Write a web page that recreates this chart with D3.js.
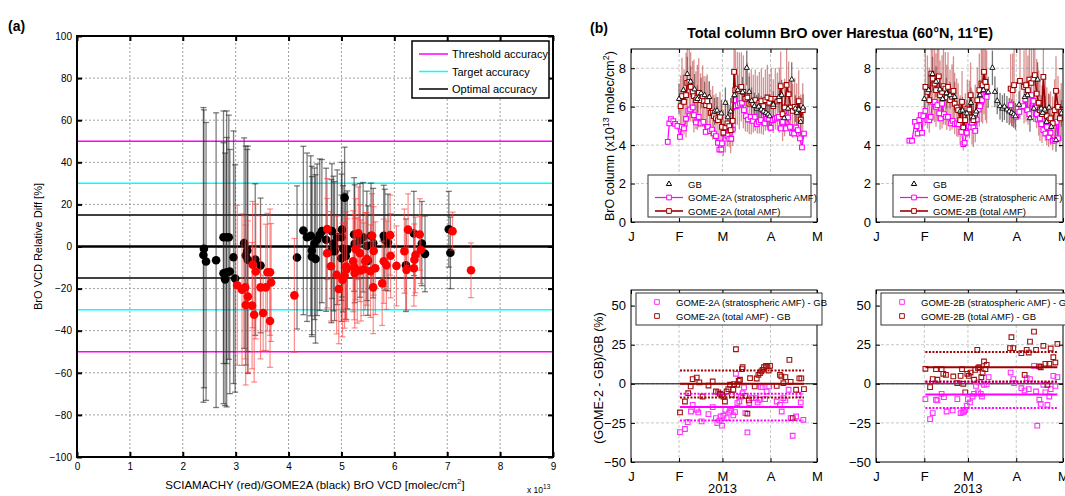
<!DOCTYPE html>
<html>
<head>
<meta charset="utf-8">
<script src="https://cdn.jsdelivr.net/npm/d3@7"></script>
<style>
  body { margin: 0; background: #fff; }
  text { font-family: "Liberation Sans", Arial, sans-serif; }
</style>
</head>
<body>
<div id="chart"></div>
<script>
// ---------- panel (a): relative differences vs VCD ----------
// [VCD (x1e13 molec/cm2), relative diff %, error bar half-length %]
const sciamachyPts = [
  [3.03,-18.4,38],[3.12,-20.5,36],[3.18,-19.4,34],[3.23,-23.8,36],[3.19,-27.8,38],[3.31,-28.1,30],
  [3.35,-32.4,32],[3.32,-8.6,30],[3.38,-11.9,32],[3.47,-19.4,34],[3.52,-31.6,18],[3.57,-19.4,30],
  [3.60,-12.2,28],[3.65,-12.2,30],[3.67,-17.1,28],[3.65,-35.4,22],[4.11,-23.2,27],[4.73,8.3,24],
  [4.73,-3.2,26],[4.80,-9.4,26],[4.91,-13.5,28],[4.95,-20.2,26],[5.02,-15.9,27],[5.06,-13.8,25],
  [5.09,-9.5,26],[5.10,-10.8,24],[5.22,-7,24],[5.24,-9.8,25],[5.25,-12.7,26],[5.27,-1.3,24],
  [5.30,-11.4,25],[5.32,6.3,22],[5.35,-3.2,23],[5.37,-11.4,24],[5.42,-10.8,22],[5.45,-7,23],
  [5.48,-5.9,22],[5.55,-11.7,22],[5.58,5.1,20],[5.60,-19.4,22],[5.61,-2.1,21],[5.64,-10.3,22],
  [5.77,-17.5,20],[5.80,-7,20],[5.85,-8.9,21],[5.92,5.4,19],[5.93,-4.4,20],[6.04,-9.2,19],
  [6.19,-2.2,20],[6.23,-11.1,19],[6.26,8,17],[6.37,-10.3,18],[6.38,-6.3,17],[6.40,-4,18],
  [6.48,5.7,17],[6.50,-1.6,16],[7.10,7.3,9],[7.45,-11.3,13]
];
const gome2aPts = [
  [2.40,-1.1,66],[2.39,-4,70],[2.44,-7.1,66],[2.63,-6.5,70],[2.77,4.4,60],[2.83,4.4,60],
  [2.87,4.4,58],[2.77,-12.7,62],[2.80,-15.6,60],[2.83,-12.2,64],[2.89,-11.9,58],[2.96,-5.1,60],
  [2.99,-15.2,54],[3.16,1.6,50],[3.19,-4.3,52],[3.22,-1.9,48],[3.23,-6.3,54],[3.37,-6.2,36],
  [3.47,-9,32],[4.16,-5.2,34],[4.28,7.6,40],[4.35,4.4,40],[4.42,5.1,38],[4.44,-1.9,40],
  [4.44,-4.8,38],[4.51,-5.9,40],[4.49,1.3,36],[4.54,3.2,36],[4.59,5.6,36],[4.63,7.3,34],
  [4.71,3.2,34],[4.81,-2.2,34],[4.82,7.3,32],[4.85,1.4,32],[4.87,-2.2,33],[4.92,4.4,32],
  [5.00,4.4,30],[5.01,8,32],[5.06,23.2,24],[5.03,-1.1,30],[5.00,-5.6,30],[5.08,-4.6,30],
  [5.11,-1.6,28],[5.24,5.7,27],[5.25,1.3,28],[5.35,2.9,27],[5.41,4.4,26],[5.48,0.3,26],
  [5.50,-6.7,26],[5.56,5.1,25],[5.60,1.6,26],[5.80,5.1,24],[5.82,3.2,24],[5.88,1.9,23],
  [6.22,-8.9,22],[6.37,6.2,20],[6.52,1.4,20],[6.58,-3.5,18],[7.03,8.2,18],[7.06,-3,17]
];
const xTicksA = [0,1,2,3,4,5,6,7,8,9];
const yTicksA = [-100,-80,-60,-40,-20,0,20,40,60,80,100];
const accuracyNames = ["Threshold accuracy", "Target accuracy", "Optimal accuracy"];
const accuracyLevels = [50, 30, 15];

// ---------- panel (b): Harestua time series (day = days since 1 Jan 2013) ----------
// ground-based [day, BrO x1e13, error]
const gbColumn = [
  [31.0,6.4,0.8],[33.8,6.86,0.8],[36.3,7.7,0.9],[38.5,7.3,0.8],[41.0,6.9,0.8],[42.8,6.4,0.7],
  [45.2,6.7,0.8],[47.5,6.6,0.7],[50.5,6.5,0.8],[53.9,5.75,0.7],[55.5,5.8,0.7],[58.3,5.65,0.7],
  [60.9,6.2,0.8],[62.5,5.45,0.7],[64.3,5.75,0.7],[66.7,6.6,0.8],[68.9,6.86,0.8],[72.0,6.75,0.8],
  [74.7,8.02,0.9],[76.3,6.77,0.8],[77.8,6.3,0.7],[79.6,6.03,0.7],[81.1,5.9,0.7],[82.4,6.0,0.7],
  [84.0,5.85,0.7],[85.5,5.75,0.7],[87.1,5.68,0.7],[88.4,5.6,0.7],[89.5,5.5,0.7],[91.8,6.1,0.7],
  [95.5,6.5,0.8],[97.2,6.6,0.8],[98.8,5.4,0.7],[101.3,5.9,0.7],[103.7,7.41,0.9],[106.0,5.9,0.7],
  [107.0,5.68,0.7],[108.3,5.85,0.7],[109.5,5.21,0.7],[111.0,5.95,0.7],[112.5,4.95,0.7],
  [115.5,4.26,0.6],[119.0,5.65,0.7]
];
// GOME-2A stratospheric AMF [day, value]
const gome2aStrat = [
  [23.7,4.17],[24.7,5.13],[25.8,5.35],[27.3,5.25],[28.4,5.1],[29.9,5.0],[31.6,4.43],[32.7,4.95],
  [34.2,4.87],[35.5,5.37],[37.0,5.78],[38.1,5.85],[39.8,5.96],[40.6,5.56],[41.9,5.18],[43.7,5.47],
  [44.9,5.13],[46.7,5.21],[48.2,4.69],[49.7,4.95],[51.0,4.73],[52.3,4.81],[53.5,4.6],[54.8,4.47],
  [56.1,4.12],[57.0,3.77],[58.3,3.77],[58.7,4.09],[60.0,4.6],[61.3,4.95],[62.2,4.5],[63.4,4.33],
  [64.7,4.33],[65.6,4.81],[66.5,6.34],[67.7,6.03],[69.0,6.08],[70.3,6.16],[71.6,6.2],[72.9,5.82],
  [74.2,5.51],[75.5,5.33],[77.2,5.47],[78.5,5.26],[79.8,5.47],[81.1,5.09],[82.4,5.21],[83.7,5.3],
  [84.9,5.82],[86.2,5.13],[87.5,5.37],[88.8,5.37],[90.1,4.9],[91.4,5.3],[92.7,5.37],[94.0,5.42],
  [95.3,5.47],[96.6,4.87],[97.8,5.21],[98.7,5.77],[100.0,4.87],[101.3,5.44],[102.6,4.95],
  [103.9,4.64],[105.2,4.6],[106.5,4.92],[107.7,4.78],[109.0,4.35],[110.3,3.88],[111.6,4.6]
];
// GOME-2A total AMF [day, value, error]
const gome2aTotal = [
  [32.0,6.03,1.6],[32.9,6.55,2.0],[34.2,6.25,1.7],[35.5,6.6,2.2],[36.3,7.24,2.3],[37.6,7.29,2.0],
  [38.5,7.03,1.8],[39.8,6.77,1.6],[40.6,6.55,1.9],[41.9,6.34,1.5],[42.8,6.48,1.7],[43.7,6.72,1.8],
  [44.9,6.34,1.4],[46.2,6.55,1.6],[47.1,6.29,1.3],[48.4,6.08,1.5],[49.2,6.29,1.4],[50.5,6.03,1.3],
  [51.4,5.68,1.2],[52.7,5.68,1.4],[53.5,5.51,1.1],[54.8,5.39,1.3],[56.1,5.3,1.2],[57.4,5.47,1.3],
  [58.7,4.95,1.1],[59.6,4.64,1.2],[60.9,4.92,1.3],[62.2,5.13,1.2],[63.4,4.99,1.1],[64.3,4.78,1.2],
  [65.6,5.26,1.3],[66.5,7.81,2.0],[67.3,6.86,2.1],[68.6,6.94,1.9],[69.9,6.82,2.0],[71.2,7.03,1.8],
  [72.5,6.77,1.9],[73.8,6.41,1.7],[75.1,6.48,1.8],[76.3,6.16,1.6],[77.6,6.25,1.7],[78.9,6.16,1.5],
  [80.2,6.34,1.6],[81.5,6.11,1.5],[82.8,6.2,1.6],[84.1,6.29,1.7],[85.4,6.03,1.5],[86.7,6.34,1.6],
  [88.0,6.48,1.7],[89.2,6.2,1.5],[90.5,6.41,1.6],[91.8,6.03,1.4],[93.1,6.41,1.6],[94.4,6.27,1.5],
  [95.7,6.34,1.7],[96.6,7.07,1.8],[97.8,5.61,1.4],[99.1,5.96,1.5],[100.4,7.13,1.9],[101.7,6.65,1.7],
  [103.0,5.96,1.5],[104.3,5.78,1.4],[105.6,5.99,1.5],[106.9,5.82,1.4],[108.2,6.29,1.6],
  [109.5,5.33,1.3],[110.8,5.82,1.4]
];
// GOME-2B stratospheric AMF [day, value]
const gome2bStrat = [
  [21.4,4.23],[23.1,4.23],[25.0,5.21],[26.1,4.99],[26.7,4.6],[27.8,5.3],[28.7,5.56],[29.5,4.64],
  [30.4,5.51],[31.7,5.78],[33.0,5.3],[34.2,5.3],[35.1,5.47],[36.4,6.25],[37.6,6.25],[38.5,5.99],
  [39.4,6.08],[40.6,5.65],[41.5,5.39],[42.4,6.16],[43.6,5.61],[44.9,5.47],[46.2,5.47],[47.9,5.13],
  [49.2,5.26],[50.5,5.09],[51.8,5.13],[53.0,5.09],[54.8,4.69],[56.0,4.05],[56.9,4.12],[58.2,4.64],
  [59.5,4.99],[60.7,4.95],[61.6,5.16],[62.5,4.92],[63.7,4.74],[64.6,5.33],[65.9,5.85],[66.7,6.03],
  [68.0,6.34],[68.9,6.6],[70.2,6.55],[71.0,6.51],[86.4,6.08],[88.1,5.56],[89.8,5.47],[92.0,5.73],
  [93.3,5.99],[94.5,6.03],[95.8,6.37],[97.1,5.82],[98.4,5.61],[99.7,6.6],[101.0,6.3],[101.9,5.96],
  [103.1,5.61],[104.0,5.33],[105.2,5.39],[106.1,5.09],[107.4,4.78],[108.7,4.6],[109.6,4.95],
  [110.8,4.4],[112.0,4.64],[113.4,4.23],[114.6,4.23],[115.9,5.21],[116.8,4.35],[117.7,5.78],
  [118.9,5.56]
];
// GOME-2B total AMF [day, value, error]
const gome2bTotal = [
  [31.7,7.03,2.0],[33.0,6.77,1.9],[34.2,6.34,1.7],[35.5,7.72,2.3],[36.4,7.46,2.2],[37.6,7.2,2.0],
  [38.5,6.86,1.9],[39.4,7.34,2.1],[40.3,7.58,2.2],[41.1,6.6,1.8],[42.4,6.77,1.9],[43.3,7.07,2.0],
  [44.5,6.94,1.9],[45.4,6.48,1.7],[46.2,7.03,1.8],[47.5,6.34,1.6],[48.8,6.51,1.7],[49.7,6.82,1.8],
  [50.5,6.16,1.6],[51.8,5.96,1.5],[52.7,5.82,1.4],[54.0,5.3,1.3],[55.2,6.25,1.6],[56.0,4.92,1.2],
  [57.3,5.3,1.4],[58.6,5.9,1.5],[59.9,5.85,1.5],[60.7,6.6,1.7],[61.6,5.44,1.4],[62.5,5.3,1.4],
  [63.7,5.65,1.5],[65.0,6.34,1.7],[66.3,6.86,1.9],[67.6,7.2,2.0],[68.4,7.12,2.0],[69.3,7.81,2.2],
  [70.2,7.29,2.0],[71.0,7.03,1.9],[86.4,6.94,1.8],[87.7,6.86,1.9],[88.6,7.12,2.0],[92.4,7.34,2.0],
  [95.0,7.03,1.9],[96.3,7.12,1.9],[97.5,6.86,1.8],[98.4,7.41,2.0],[99.7,7.24,1.9],[101.0,7.46,2.0],
  [101.9,7.64,2.1],[103.1,6.68,1.8],[104.4,6.2,1.7],[105.2,5.82,1.6],[106.5,5.61,1.5],
  [107.4,7.55,2.0],[108.7,5.82,1.6],[109.6,5.51,1.5],[110.8,5.3,1.4],[112.0,5.39,1.4],
  [113.4,5.13,1.4],[114.6,5.82,1.6],[115.5,6.82,1.8],[116.8,5.99,1.6],[118.0,5.39,1.5],[118.9,5.73,1.5]
];

// relative differences (GOME-2 - GB)/GB in % [day, value]
const diffAStrat = [
  [31.6,-30.9],[34.8,-28.9],[36.6,-24.5],[38.7,-17.7],[39.8,-13.4],[42.4,-16.6],[43.4,-18.3],
  [45.6,-24],[50.0,-19.4],[52.7,-14.9],[54.8,-21.9],[55.7,-25.1],[57.0,-23.4],[57.8,-20.9],
  [58.7,-26.8],[59.6,-20.4],[60.9,-16.6],[61.7,-21.9],[63.4,-18.3],[64.7,-17.2],[66.0,-20.2],
  [67.1,-18.1],[67.7,6.4],[68.6,-12.3],[69.9,-11.3],[70.8,-8.1],[72.0,-6],[72.9,-2.3],[73.8,-18.7],
  [75.1,-31.1],[76.3,-12.3],[77.8,-9.1],[80.6,-9.1],[81.7,-11.9],[82.8,-10.2],[83.7,-2.1],
  [84.9,-2.1],[86.5,-9.8],[87.5,-4.9],[89.2,-1.7],[94.0,-11.3],[96.1,-13.4],[97.2,-17.7],
  [98.3,-9.1],[99.6,-10.6],[101.7,-3.8],[103.0,-21.9],[104.3,-33.2],[106.5,-20.9],[108.2,-7],
  [109.5,-11.9],[111.2,-23]
];
const diffATotal = [
  [31.6,-18.3],[34.8,-11.3],[36.9,-6],[38.5,-1.7],[39.8,3],[42.4,4],[44.1,0.9],[46.2,-8.1],
  [50.0,-1.1],[52.7,1.5],[54.8,-4.9],[56.3,-5.5],[57.4,-6.4],[58.7,-7],[59.6,-8.1],[60.6,-11.3],
  [61.7,-4.9],[62.8,-3.4],[63.9,-0.6],[65.0,-7],[66.0,-3.8],[66.5,-0.2],[67.7,22.1],[68.6,-0.6],
  [69.5,1.9],[70.3,2.6],[71.6,9.4],[72.0,10.6],[73.8,-7.7],[75.1,-19.1],[76.0,-10.6],[76.8,3.6],
  [79.8,-1.7],[81.1,3.4],[82.2,5.7],[83.2,6.8],[84.1,7.9],[84.9,8.9],[85.8,10.6],[87.1,11.5],
  [88.0,11.1],[88.8,8.5],[89.7,11.5],[94.0,-1.3],[96.1,5.7],[97.0,4.7],[98.3,0.4],[99.6,4.3],
  [102.2,15.3],[103.0,1.3],[104.3,-21.9],[106.5,-3.8],[108.6,3.5],[109.9,3.5],[111.6,-3.4]
];
const diffBStrat = [
  [31.7,-9.8],[34.7,-22.6],[36.4,-18.7],[38.5,-10.2],[39.4,-10.6],[42.1,-6.4],[43.6,-8.5],
  [45.3,-17.7],[49.2,-17],[52.2,-9.8],[54.3,-18.7],[55.6,-18.3],[56.5,-17.7],[57.3,-16.6],
  [58.2,-14],[59.0,-9.8],[60.3,-11.9],[62.0,-8.1],[62.9,-6.4],[64.2,-1.3],[65.5,-5.5],[66.3,0.9],
  [67.2,-6.4],[68.0,-8.1],[69.3,-0.6],[71.0,-0.4],[72.3,4.3],[86.4,7.2],[88.1,3],[88.6,0.4],
  [93.3,-2.8],[95.4,-4.3],[96.7,3.6],[98.0,-3.4],[98.8,3],[101.4,11.5],[102.7,-4.9],[103.5,-26.8],
  [104.8,-10.2],[105.7,-12.8],[107.4,-0.6],[108.7,-5.5],[110.0,-13.4],[111.2,-8.1],[112.1,-3.4],
  [113.8,5.1],[115.1,-1.3],[116.4,4.3]
];
const diffBTotal = [
  [31.7,9.6],[34.7,-2.1],[36.4,3],[38.5,9.4],[39.4,2.6],[42.1,9.4],[43.2,6.4],[44.9,5.7],
  [49.6,4.7],[52.2,0.4],[54.3,5.1],[55.2,9.4],[56.0,0],[57.3,-5.5],[58.6,6.4],[59.5,5.1],
  [60.7,7.2],[62.9,2.6],[63.7,8.9],[65.0,21.7],[65.5,10],[66.3,10.6],[67.6,4.3],[68.4,6.8],
  [69.3,14.3],[70.2,9.4],[71.0,12.1],[86.0,22.8],[86.9,29.8],[88.1,22.8],[93.3,19.6],[95.4,5.7],
  [96.7,21.7],[98.0,20],[98.8,27],[101.4,33.4],[102.7,21.7],[104.8,11.1],[105.7,10.6],
  [107.4,24.3],[108.7,12.8],[110.0,-0.6],[111.2,12.8],[112.1,22.6],[113.8,17],[115.1,13.6],
  [116.4,25.5]
];
// [lower dotted, solid, upper dotted] in %
const statsAStrat = [-23.4, -14.9, -6.4];
const statsATotal = [-8.7, 0, 8.5];
const statsBStrat = [-15.5, -6.8, 1.0];
const statsBTotal = [1.5, 10.6, 20.4];
const yTicksCol = [0, 2, 4, 6, 8];
const yTicksDiff = [-50, -25, 0, 25, 50];

// ---------- drawing ----------
const MAG = "#ff00ff", CYAN = "#00ffff", DRED = "#a00000";
const svg = d3.select("#chart").append("svg").attr("width", 1065).attr("height", 496);

function errorBars(g, pts, x, y, color, width, cap) {
  const b = g.append("g").attr("stroke", color).attr("stroke-width", width).attr("fill", "none");
  b.selectAll(".v").data(pts).join("line").attr("class", "v")
    .attr("x1", d => x(d[0])).attr("x2", d => x(d[0]))
    .attr("y1", d => y(d[1] - d[2])).attr("y2", d => y(d[1] + d[2]));
  if (cap) {
    [-1, 1].forEach(s => {
      b.selectAll(".c" + s).data(pts).join("line").attr("class", "c" + s)
        .attr("x1", d => x(d[0]) - cap).attr("x2", d => x(d[0]) + cap)
        .attr("y1", d => y(d[1] + s * d[2])).attr("y2", d => y(d[1] + s * d[2]));
    });
  }
}

// ---- panel (a)
const xA = d3.scaleLinear().domain([0, 9]).range([77, 553]);
const yA = d3.scaleLinear().domain([-100, 100]).range([457, 36]);
const pa = svg.append("g");
pa.append("clipPath").attr("id", "clipA").append("rect")
  .attr("x", xA(0)).attr("y", yA(100)).attr("width", xA(9) - xA(0)).attr("height", yA(-100) - yA(100));

const gridA = pa.append("g").attr("stroke", "#a0a0a0").attr("stroke-dasharray", "2,2");
gridA.selectAll(".gx").data(xTicksA.filter(d => d > 0 && d < 9)).join("line")
  .attr("x1", d => xA(d)).attr("x2", d => xA(d)).attr("y1", yA(-100)).attr("y2", yA(100));
gridA.selectAll(".gy").data(yTicksA.filter(d => d > -100 && d < 100 && d !== 0)).join("line")
  .attr("x1", xA(0)).attr("x2", xA(9)).attr("y1", d => yA(d)).attr("y2", d => yA(d));

const accColors = [MAG, CYAN, "#000"];
accuracyLevels.forEach((v, i) => {
  [v, -v].forEach(s => pa.append("line")
    .attr("x1", xA(0)).attr("x2", xA(9)).attr("y1", yA(s)).attr("y2", yA(s))
    .attr("stroke", accColors[i]).attr("stroke-width", 1.5));
});
pa.append("line").attr("x1", xA(0)).attr("x2", xA(9)).attr("y1", yA(0)).attr("y2", yA(0))
  .attr("stroke", "#000").attr("stroke-width", 2.4);

const plotA = pa.append("g").attr("clip-path", "url(#clipA)");
errorBars(plotA, gome2aPts, xA, yA, "rgba(40,40,40,0.6)", 1.3, 3);
plotA.append("g").selectAll("circle").data(gome2aPts).join("circle")
  .attr("cx", d => xA(d[0])).attr("cy", d => yA(d[1])).attr("r", 4.3).attr("fill", "#000");
errorBars(plotA, sciamachyPts, xA, yA, "rgba(255,60,60,0.6)", 1.2, 3);
plotA.append("g").selectAll("circle").data(sciamachyPts).join("circle")
  .attr("cx", d => xA(d[0])).attr("cy", d => yA(d[1])).attr("r", 4.3).attr("fill", "#ff0000");

const axA = pa.append("g");
axA.append("g").attr("transform", `translate(0,${yA(-100)})`)
  .call(d3.axisBottom(xA).tickValues(xTicksA).tickFormat(d3.format("d")).tickSize(-5).tickPadding(6));
axA.append("g").attr("transform", `translate(0,${yA(100)})`)
  .call(d3.axisTop(xA).tickValues(xTicksA).tickFormat("").tickSize(-5));
axA.append("g").attr("transform", `translate(${xA(0)},0)`)
  .call(d3.axisLeft(yA).tickValues(yTicksA).tickFormat(d3.format("d")).tickSize(-5).tickPadding(5));
axA.append("g").attr("transform", `translate(${xA(9)},0)`)
  .call(d3.axisRight(yA).tickValues(yTicksA).tickFormat("").tickSize(-5));
axA.selectAll(".domain").remove();
axA.selectAll(".tick line").attr("stroke", "#000").attr("stroke-width", 2);
axA.selectAll("text").attr("font-size", 10).attr("fill", "#000").attr("font-family", null);
pa.append("rect").attr("x", xA(0)).attr("y", yA(100)).attr("width", xA(9) - xA(0))
  .attr("height", yA(-100) - yA(100)).attr("fill", "none").attr("stroke", "#000").attr("stroke-width", 2);

// legend (a)
const legA = pa.append("g").attr("transform", "translate(412,41)");
legA.append("rect").attr("width", 137).attr("height", 57).attr("fill", "#fff")
  .attr("stroke", "#000").attr("stroke-width", 1.5);
accuracyNames.forEach((n, i) => {
  const yy = 13 + i * 17.5;
  legA.append("line").attr("x1", 7).attr("x2", 36).attr("y1", yy).attr("y2", yy)
    .attr("stroke", accColors[i]).attr("stroke-width", 1.5);
  legA.append("text").attr("x", 40).attr("y", yy + 4).attr("font-size", 11).text(n);
});

pa.append("text").attr("x", 8).attr("y", 31).attr("font-size", 14).attr("font-weight", "bold").text("(a)");
pa.append("text").attr("transform", `translate(42,${yA(0)}) rotate(-90)`).attr("text-anchor", "middle")
  .attr("font-size", 11).text("BrO VCD Relative Diff [%]");
const xlabA = pa.append("text").attr("x", (xA(0) + xA(9)) / 2).attr("y", 489).attr("text-anchor", "middle")
  .attr("font-size", 11.5);
xlabA.append("tspan").text("SCIAMACHY (red)/GOME2A (black) BrO VCD [molec/cm");
xlabA.append("tspan").attr("font-size", 8).attr("dy", -5).text("2");
xlabA.append("tspan").attr("dy", 5).text("]");
const expA = pa.append("text").attr("x", 527).attr("y", 493).attr("font-size", 8.5);
expA.append("tspan").text("x 10");
expA.append("tspan").attr("font-size", 6.5).attr("dy", -4).text("13");

// ---- panel (b)
const T0 = Date.UTC(2013, 0, 1);
const day = d => new Date(T0 + d * 864e5);
const monthInitial = d => d3.utcFormat("%b")(d).charAt(0);

function subplot(id, left, right, top, bottom, yDomain, yTicks) {
  const x = d3.scaleUtc().domain([day(0), day(120)]).range([left, right]);
  const y = d3.scaleLinear().domain(yDomain).range([bottom, top]);
  const g = svg.append("g");
  g.append("clipPath").attr("id", id).append("rect")
    .attr("x", left).attr("y", top).attr("width", right - left).attr("height", bottom - top);
  const months = x.ticks(d3.utcMonth.every(1));
  const grid = g.append("g").attr("stroke", "#c8c8c8").attr("stroke-dasharray", "3,2");
  grid.selectAll(".gx").data(months.slice(1, -1)).join("line")
    .attr("x1", d => x(d)).attr("x2", d => x(d)).attr("y1", top).attr("y2", bottom);
  grid.selectAll(".gy").data(yTicks.filter(v => v > yDomain[0] && v < yDomain[1])).join("line")
    .attr("x1", left).attr("x2", right).attr("y1", d => y(d)).attr("y2", d => y(d));
  const plot = g.append("g").attr("clip-path", `url(#${id})`);
  const axes = g.append("g");
  axes.append("g").attr("transform", `translate(0,${bottom})`)
    .call(d3.axisBottom(x).tickValues(months).tickFormat(monthInitial).tickSize(-4).tickPadding(10));
  axes.append("g").attr("transform", `translate(0,${top})`)
    .call(d3.axisTop(x).tickValues(months).tickFormat("").tickSize(-4));
  axes.append("g").attr("transform", `translate(${left},0)`)
    .call(d3.axisLeft(y).tickValues(yTicks).tickSize(-4).tickPadding(5));
  axes.append("g").attr("transform", `translate(${right},0)`)
    .call(d3.axisRight(y).tickValues(yTicks).tickFormat("").tickSize(-4));
  axes.selectAll(".domain").remove();
  axes.selectAll(".tick line").attr("stroke", "#000");
  axes.selectAll("text").attr("font-size", 13).attr("fill", "#000").attr("font-family", null);
  g.append("rect").attr("x", left).attr("y", top).attr("width", right - left).attr("height", bottom - top)
    .attr("fill", "none").attr("stroke", "#000").attr("stroke-width", 1);
  return { x, y, plot, g, left, right, top, bottom };
}

function segments(pts) {
  const out = [[]];
  pts.forEach((p, i) => {
    if (i && p[0] - pts[i - 1][0] > 6) out.push([]);
    out[out.length - 1].push(p);
  });
  return out;
}

const square = d3.symbol(d3.symbolSquare, 22);
const triangle = d3.symbol(d3.symbolTriangle, 12);

function drawSeries(plot, pts, sp, color, width) {
  const line = d3.line().x(d => sp.x(day(d[0]))).y(d => sp.y(d[1]));
  plot.append("g").selectAll("path").data(segments(pts)).join("path")
    .attr("d", line).attr("fill", "none").attr("stroke", color).attr("stroke-width", width);
  plot.append("g").selectAll("path").data(pts).join("path")
    .attr("d", square).attr("transform", d => `translate(${sp.x(day(d[0]))},${sp.y(d[1])})`)
    .attr("fill", "#fff").attr("stroke", color).attr("stroke-width", 1.1);
}

function columnPanel(sp, strat, total, sat) {
  const lastDay = d3.max(strat.concat(total), d => d[0]);
  const gb = gbColumn.filter(d => d[0] <= lastDay + 0.5);
  const xt = d => sp.x(day(d));
  errorBars(sp.plot, gb, xt, sp.y, "rgba(60,60,60,0.7)", 1.3, 0);
  errorBars(sp.plot, total, xt, sp.y, "rgba(190,70,70,0.6)", 1.3, 0);
  drawSeries(sp.plot, strat, sp, MAG, 1.2);
  drawSeries(sp.plot, total, sp, DRED, 1.6);
  sp.plot.append("g").selectAll("path").data(gb).join("path")
    .attr("d", triangle).attr("transform", d => `translate(${xt(d[0])},${sp.y(d[1])})`)
    .attr("fill", "#fff").attr("stroke", "#000").attr("stroke-width", 0.9);

  const leg = sp.g.append("g").attr("transform", `translate(${sp.left + 17},175)`);
  leg.append("rect").attr("width", 163).attr("height", 42).attr("fill", "#fff")
    .attr("stroke", "#333").attr("stroke-width", 1);
  const items = [["GB", null, "#000"], [sat + " (stratospheric AMF)", MAG, MAG], [sat + " (total AMF)", DRED, DRED]];
  items.forEach((it, i) => {
    const yy = 9 + i * 13.5;
    if (it[1]) leg.append("line").attr("x1", 7).attr("x2", 35).attr("y1", yy).attr("y2", yy)
      .attr("stroke", it[1]).attr("stroke-width", i === 2 ? 1.6 : 1.2);
    leg.append("path").attr("d", i === 0 ? triangle : square).attr("transform", `translate(21,${yy})`)
      .attr("fill", "#fff").attr("stroke", it[2]).attr("stroke-width", 1);
    leg.append("text").attr("x", 40).attr("y", yy + 3.5).attr("font-size", 9.5).text(it[0]);
  });
}

function diffPanel(sp, dStrat, dTotal, sStrat, sTotal, sat) {
  sp.plot.append("line").attr("x1", sp.left).attr("x2", sp.right)
    .attr("y1", sp.y(0)).attr("y2", sp.y(0)).attr("stroke", "#000").attr("stroke-width", 1);
  [[dStrat, "#ff30ff"], [dTotal, "#a01010"]].forEach(([pts, c]) => {
    sp.plot.append("g").selectAll("path").data(pts).join("path")
      .attr("d", square).attr("transform", d => `translate(${sp.x(day(d[0]))},${sp.y(d[1])})`)
      .attr("fill", "none").attr("stroke", c).attr("stroke-width", 1.1);
  });
  [[sStrat, dStrat, MAG], [sTotal, dTotal, DRED]].forEach(([st, pts, c]) => {
    const ext = d3.extent(pts, d => d[0]);
    st.forEach((v, i) => sp.plot.append("line")
      .attr("x1", sp.x(day(ext[0]))).attr("x2", sp.x(day(ext[1])))
      .attr("y1", sp.y(v)).attr("y2", sp.y(v)).attr("stroke", c).attr("stroke-width", 2)
      .attr("stroke-dasharray", i === 1 ? null : "2,1.5"));
  });
  const leg = sp.g.append("g").attr("transform", `translate(${sp.left + 5},293)`);
  leg.append("rect").attr("width", 186).attr("height", 32).attr("fill", "#fff")
    .attr("stroke", "#333").attr("stroke-width", 1);
  [[sat + " (stratospheric AMF) - GB", "#ff30ff"], [sat + " (total AMF) - GB", "#a01010"]].forEach((it, i) => {
    const yy = 9 + i * 14;
    leg.append("path").attr("d", square).attr("transform", `translate(21,${yy})`)
      .attr("fill", "none").attr("stroke", it[1]).attr("stroke-width", 1);
    leg.append("text").attr("x", 40).attr("y", yy + 3.5).attr("font-size", 9.5).text(it[0]);
  });
  sp.g.append("text").attr("x", sp.x(day(59))).attr("y", 493).attr("text-anchor", "middle")
    .attr("font-size", 13).text("2013");
}

const colA = subplot("cA", 631, 817, 49, 222, [0, 9], yTicksCol);
const colB = subplot("cB", 876, 1063, 49, 222, [0, 9], yTicksCol);
const difA = subplot("dA", 631, 817, 290, 462, [-50, 60], yTicksDiff);
const difB = subplot("dB", 876, 1063, 290, 462, [-50, 60], yTicksDiff);
columnPanel(colA, gome2aStrat, gome2aTotal, "GOME-2A");
columnPanel(colB, gome2bStrat, gome2bTotal, "GOME-2B");
diffPanel(difA, diffAStrat, diffATotal, statsAStrat, statsATotal, "GOME-2A");
diffPanel(difB, diffBStrat, diffBTotal, statsBStrat, statsBTotal, "GOME-2B");

svg.append("text").attr("x", 590).attr("y", 33).attr("font-size", 14).attr("font-weight", "bold").text("(b)");
svg.append("text").attr("x", 840).attr("y", 38).attr("text-anchor", "middle").attr("font-size", 14.5)
  .attr("font-weight", "bold").text("Total column BrO over Harestua (60°N, 11°E)");
const ylabTop = svg.append("text").attr("transform", "translate(614,136) rotate(-90)")
  .attr("text-anchor", "middle").attr("font-size", 12.5);
ylabTop.append("tspan").text("BrO column (x10");
ylabTop.append("tspan").attr("font-size", 9).attr("dy", -5).text("13");
ylabTop.append("tspan").attr("dy", 5).text(" molec/cm");
ylabTop.append("tspan").attr("font-size", 9).attr("dy", -5).text("2");
ylabTop.append("tspan").attr("dy", 5).text(")");
svg.append("text").attr("transform", "translate(603,378) rotate(-90)").attr("text-anchor", "middle")
  .attr("font-size", 12.5).text("(GOME-2 - GB)/GB (%)");
</script>
</body>
</html>
